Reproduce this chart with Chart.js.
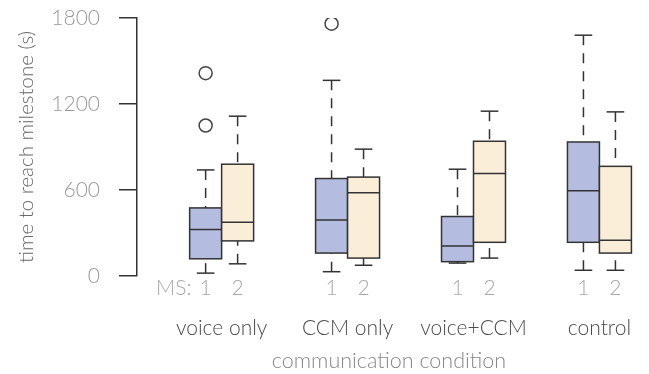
<!DOCTYPE html>
<html lang="en">
<head>
    <meta charset="UTF-8">
    <title>Time to reach milestone</title>
    <script src="https://cdn.jsdelivr.net/npm/chart.js"></script>
    <style>
        html, body { margin: 0; padding: 0; background: #fff; }
        #chart-container { width: 649px; height: 374px; }
    </style>
</head>
<body>
    <div id="chart-container">
        <canvas id="boxChart" width="649" height="374"></canvas>
    </div>

    <script>
        // Data (seconds)
        const categories = ['voice only', 'CCM only', 'voice+CCM', 'control'];
        const msLabels = ['1', '2'];
        const msPrefix = 'MS:';
        const yTicks = [0, 600, 1200, 1800];

        const ms1Min    = [20, 30, 90, 40];
        const ms1Q1     = [120, 160, 100, 235];
        const ms1Median = [325, 390, 210, 595];
        const ms1Q3     = [475, 680, 415, 935];
        const ms1Max    = [740, 1365, 745, 1680];
        const ms1Outliers = [[1050, 1415], [1760], [], []];

        const ms2Min    = [85, 75, 125, 40];
        const ms2Q1     = [245, 125, 235, 160];
        const ms2Median = [375, 580, 715, 250];
        const ms2Q3     = [780, 690, 940, 765];
        const ms2Max    = [1115, 885, 1150, 1145];
        const ms2Outliers = [[], [], [], []];

        // layout in x-scale units (one category = 1)
        const X_MIN = -0.672;
        const X_MAX = 3.33;
        const BOX_HALF = 0.127;
        const CAP_HALF = 0.07;
        const MS_PREFIX_POS = -0.38;

        const FONT = "'Lato', 'Helvetica Neue', 'Liberation Sans', sans-serif";

        const series = [
            { min: ms1Min, q1: ms1Q1, med: ms1Median, q3: ms1Q3, max: ms1Max, outliers: ms1Outliers, fill: '#b4bce0', shift: -BOX_HALF },
            { min: ms2Min, q1: ms2Q1, med: ms2Median, q3: ms2Q3, max: ms2Max, outliers: ms2Outliers, fill: '#faeed8', shift: BOX_HALF }
        ];

        // tick positions for the "MS: 1 2" row
        const numberTicks = [{ value: MS_PREFIX_POS, label: msPrefix }];
        categories.forEach((c, i) => {
            series.forEach((s, k) => numberTicks.push({ value: i + s.shift, label: msLabels[k] }));
        });

        // outlier points
        const outlierPoints = [];
        series.forEach(s => {
            s.outliers.forEach((vals, i) => {
                vals.forEach(v => outlierPoints.push({ x: i + s.shift, y: v }));
            });
        });

        // draws boxes, medians and whiskers through the chart scales
        const boxPlotPlugin = {
            id: 'boxPlot',
            beforeDatasetsDraw(chart) {
                const { ctx } = chart;
                const x = chart.scales.x;
                const y = chart.scales.y;
                const line = (x1, y1, x2, y2) => {
                    ctx.beginPath();
                    ctx.moveTo(x1, y1);
                    ctx.lineTo(x2, y2);
                    ctx.stroke();
                };
                ctx.save();
                ctx.strokeStyle = '#333';
                ctx.lineWidth = 1.5;
                series.forEach(s => {
                    categories.forEach((c, i) => {
                        const pos = i + s.shift;
                        const cx = x.getPixelForValue(pos);
                        const left = x.getPixelForValue(pos - BOX_HALF);
                        const right = x.getPixelForValue(pos + BOX_HALF);
                        const capL = x.getPixelForValue(pos - CAP_HALF);
                        const capR = x.getPixelForValue(pos + CAP_HALF);
                        const yMin = y.getPixelForValue(s.min[i]);
                        const yQ1 = y.getPixelForValue(s.q1[i]);
                        const yMed = y.getPixelForValue(s.med[i]);
                        const yQ3 = y.getPixelForValue(s.q3[i]);
                        const yMax = y.getPixelForValue(s.max[i]);

                        // whiskers
                        ctx.setLineDash([10, 8]);
                        line(cx, yMax, cx, yQ3);
                        line(cx, yMin, cx, yQ1);
                        ctx.setLineDash([]);
                        line(capL, yMax, capR, yMax);
                        line(capL, yMin, capR, yMin);

                        // box
                        ctx.fillStyle = s.fill;
                        ctx.fillRect(left, yQ3, right - left, yQ1 - yQ3);
                        ctx.strokeRect(left, yQ3, right - left, yQ1 - yQ3);
                        line(left, yMed, right, yMed);
                    });
                });
                ctx.restore();
            }
        };

        const ctx = document.getElementById('boxChart').getContext('2d');

        new Chart(ctx, {
            type: 'scatter',
            data: {
                datasets: [{
                    label: 'outliers',
                    data: outlierPoints,
                    pointRadius: 6.5,
                    pointBorderWidth: 1.5,
                    pointBorderColor: '#444',
                    pointBackgroundColor: '#fff',
                    pointHoverRadius: 6.5
                }]
            },
            options: {
                responsive: false,
                animation: false,
                devicePixelRatio: 1,
                layout: { padding: { top: 18, left: 0, right: 0, bottom: 0 } },
                plugins: {
                    legend: { display: false },
                    tooltip: { enabled: false }
                },
                scales: {
                    x: {
                        type: 'linear',
                        position: 'bottom',
                        min: X_MIN,
                        max: X_MAX,
                        grid: { display: false, drawTicks: false },
                        border: { display: false },
                        afterBuildTicks: scale => {
                            scale.ticks = numberTicks.map(t => ({ value: t.value }));
                        },
                        afterFit: scale => { scale.height = 30; },
                        ticks: {
                            autoSkip: false,
                            maxRotation: 0,
                            padding: 0,
                            color: '#a8a8a8',
                            font: { family: FONT, size: 21, weight: '300' },
                            callback: (value, index) => numberTicks[index].label
                        }
                    },
                    x2: {
                        type: 'linear',
                        position: 'bottom',
                        min: X_MIN,
                        max: X_MAX,
                        grid: { display: false, drawTicks: false },
                        border: { display: false },
                        afterBuildTicks: scale => {
                            scale.ticks = categories.map((c, i) => ({ value: i }));
                        },
                        afterFit: scale => { scale.height = 68; },
                        ticks: {
                            autoSkip: false,
                            maxRotation: 0,
                            padding: 10,
                            color: '#4a4a4a',
                            font: { family: FONT, size: 21, weight: '300' },
                            callback: (value, index) => categories[index]
                        },
                        title: {
                            display: true,
                            text: 'communication condition',
                            color: '#888',
                            padding: { top: 0, bottom: 0 },
                            font: { family: FONT, size: 21.5, weight: '300' }
                        }
                    },
                    y: {
                        type: 'linear',
                        min: 0,
                        max: 1800,
                        afterBuildTicks: scale => {
                            scale.ticks = yTicks.map(v => ({ value: v }));
                        },
                        afterFit: scale => {
                            scale.width = 137;
                            scale.paddingTop = 0;
                            scale.paddingBottom = 0;
                        },
                        grid: {
                            drawOnChartArea: false,
                            drawTicks: true,
                            tickLength: 18,
                            color: '#333',
                            lineWidth: 1.5
                        },
                        border: { display: true, color: '#333', width: 1.5 },
                        ticks: {
                            padding: 19,
                            color: '#9a9a9a',
                            font: { family: FONT, size: 21, weight: '300' },
                            callback: value => String(value)
                        },
                        title: {
                            display: true,
                            text: 'time to reach milestone (s)',
                            color: '#666',
                            padding: { top: 13.7, bottom: 0 },
                            font: { family: FONT, size: 20.5, weight: '300' }
                        }
                    }
                }
            },
            plugins: [boxPlotPlugin]
        });
    </script>
</body>
</html>
